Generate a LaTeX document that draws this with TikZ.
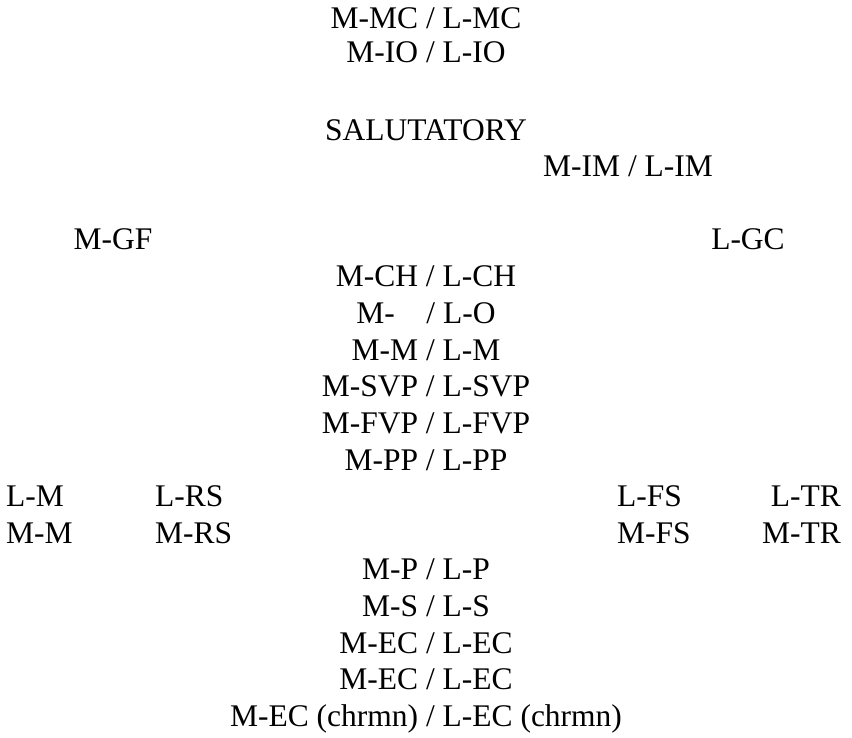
\documentclass[tikz,border=0pt]{standalone}
\usepackage{fontspec}
\setmainfont{Liberation Serif}
\usetikzlibrary{positioning}

\begin{document}
\begin{tikzpicture}[x=1pt,y=-1pt,
    lbl/.style={inner sep=0pt,anchor=base,font=\fontsize{31.5}{33}\selectfont},
    row/.style={lbl,below=36.6pt of #1.base,anchor=base},
    side/.style={lbl,anchor=base west},
    siderow/.style={side,below=36.6pt of #1.base west,anchor=base west},
    sider/.style={lbl,anchor=base east},
    siderrow/.style={sider,below=36.6pt of #1.base east,anchor=base east}]
\useasboundingbox (0,0) rectangle (852,738);

\node[lbl] (mc) at (426,29) {M-MC / L-MC};
\node[lbl,below=34pt of mc.base,anchor=base] (io) {M-IO / L-IO};

\node[lbl] (sal) at (426,141) {SALUTATORY};
\node[lbl] (im) at (628,177) {M-IM / L-IM};

\node[lbl] (gf) at (113,250) {M-GF};
\node[lbl] (gc) at (748,250) {L-GC};

\node[lbl] (ch) at (426,287) {M-CH / L-CH};
\node[row=ch] (o) {M-\hspace{0.75em} / L-O};
\node[row=o] (m) {M-M / L-M};
\node[row=m] (svp) {M-SVP / L-SVP};
\node[row=svp] (fvp) {M-FVP / L-FVP};
\node[row=fvp] (pp) {M-PP / L-PP};

\node[side] (lm) at (6,506.6) {L-M};
\node[side] (lrs) at (155,506.6) {L-RS};
\node[side] (lfs) at (617,506.6) {L-FS};
\node[sider] (ltr) at (841,506.6) {L-TR};
\node[siderow=lm] (mm) {M-M};
\node[siderow=lrs] (mrs) {M-RS};
\node[siderow=lfs] (mfs) {M-FS};
\node[siderrow=ltr] (mtr) {M-TR};

\node[lbl,below=109.8pt of pp.base,anchor=base] (p) {M-P / L-P};
\node[row=p] (s) {M-S / L-S};
\node[row=s] (ec) {M-EC / L-EC};
\node[row=ec] (ec2) {M-EC / L-EC};
\node[row=ec2] (ecc) {M-EC (chrmn) / L-EC (chrmn)};
\end{tikzpicture}
\end{document}
